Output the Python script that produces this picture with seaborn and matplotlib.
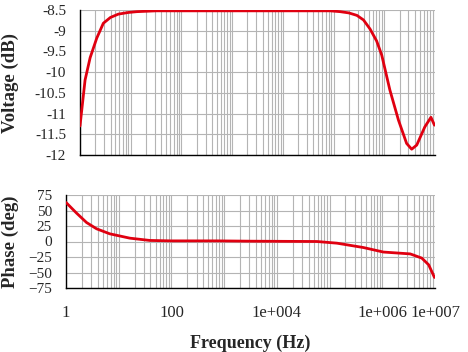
import numpy as np
import pandas as pd
import matplotlib
matplotlib.use("Agg")
import matplotlib.pyplot as plt
import seaborn as sns
from matplotlib.ticker import FixedLocator, NullFormatter

sns.set_style("white")
plt.rcParams['font.family'] = ['Liberation Serif', 'DejaVu Serif']

# ---- data ----
volt_logf = [0.0, 0.1, 0.2, 0.33, 0.46, 0.6, 0.755, 0.95, 1.12, 1.5, 2.5, 3.5, 4.5, 4.93,
             5.13, 5.3, 5.46, 5.59, 5.72, 5.85, 5.95, 6.11, 6.28, 6.44, 6.54, 6.64, 6.8,
             6.92, 6.99]
volt_db = [-11.3, -10.19, -9.65, -9.18, -8.82, -8.68, -8.60, -8.56, -8.54, -8.52, -8.52, -8.52,
           -8.52, -8.52, -8.54, -8.57, -8.63, -8.74, -8.96, -9.25, -9.59, -10.43, -11.16,
           -11.72, -11.86, -11.76, -11.32, -11.09, -11.28]

phase_logf = [0.0, 0.2, 0.39, 0.58, 0.83, 1.21, 1.59, 2.0, 2.86, 3.5, 4.76, 5.14, 5.64,
              6.02, 6.53, 6.75, 6.88, 6.99]
phase_deg = [63, 45.8, 30.6, 20.5, 12.4, 5.4, 1.7, 1.0, 1.0, 0.5, 0.0, -2.7, -9.7,
             -17, -20, -26.8, -37.6, -58]

volt_ticks = [-8.5, -9, -9.5, -10, -10.5, -11, -11.5, -12]
volt_tick_labels = ["-8.5", "-9", "-9.5", "-10", "-10.5", "-11", "-11.5", "-12"]
phase_ticks = [75, 50, 25, 0, -25, -50, -75]
x_ticks = [1, 100, 1e4, 1e6, 1e7]
x_tick_labels = ["1", "100", "1e+004", "1e+006", "1e+007"]

dfv = pd.DataFrame({"f": 10 ** np.array(volt_logf), "v": volt_db})
dfp = pd.DataFrame({"f": 10 ** np.array(phase_logf), "p": phase_deg})

W, H = 468, 352
fig = plt.figure(figsize=(W / 100, H / 100), dpi=100)
ax1 = fig.add_axes([80 / W, 1 - 155 / H, (435 - 80) / W, (155 - 10) / H])
ax2 = fig.add_axes([66 / W, 1 - 288 / H, (435 - 66) / W, (288 - 195) / H])

red = "#e00010"
grid_c = "#b4b4b4"
minor_pos = [k * 10 ** n for n in range(0, 7) for k in range(2, 10)]

for ax in (ax1, ax2):
    ax.set_xscale("log")
    ax.set_xlim(1, 1e7)
    ax.xaxis.set_minor_locator(FixedLocator(minor_pos))
    ax.xaxis.set_minor_formatter(NullFormatter())
    for v in minor_pos + [1, 10, 100, 1e3, 1e4, 1e5, 1e6, 1e7]:
        ax.axvline(v, color=grid_c, lw=0.8, zorder=0)
    for s in ("top", "right"):
        ax.spines[s].set_visible(False)
    for s in ("left", "bottom"):
        ax.spines[s].set_color("black")
        ax.spines[s].set_linewidth(1.0)
    ax.tick_params(axis="both", which="minor", length=0)
    ax.tick_params(axis="y", which="major", direction="out", length=5, width=1,
                   color="black", pad=5, labelsize=11)

sns.lineplot(data=dfv, x="f", y="v", ax=ax1, color=red, lw=2, sort=False,
             estimator=None, zorder=3)
ax1.set_ylim(-12, -8.5)
ax1.set_yticks(volt_ticks)
ax1.set_yticklabels(volt_tick_labels)
for v in volt_ticks:
    ax1.axhline(v, color=grid_c, lw=0.8, zorder=0)
ax1.set_xticks([])
ax1.set_xticks([], minor=True)
ax1.set_xlabel("")
ax1.set_ylabel("Voltage (dB)", fontsize=13.5, fontweight="bold")
ax1.yaxis.set_label_coords(-0.172, 0.5)

sns.lineplot(data=dfp, x="f", y="p", ax=ax2, color=red, lw=2, sort=False,
             estimator=None, zorder=3)
ax2.set_ylim(-75, 75)
ax2.set_yticks(phase_ticks)
for v in phase_ticks:
    ax2.axhline(v, color=grid_c, lw=0.8, zorder=0)
ax2.set_xticks(x_ticks)
ax2.set_xticklabels(x_tick_labels)
ax2.tick_params(axis="x", which="major", direction="out", length=4.5, width=1,
                color="black", labelsize=12, pad=8)
ax2.set_xlabel("Frequency (Hz)", fontsize=13, fontweight="bold")
ax2.xaxis.set_label_coords(0.5, -0.5)
ax2.set_ylabel("Phase (deg)", fontsize=13.5, fontweight="bold")
ax2.yaxis.set_label_coords(-0.127, 0.5)

fig.savefig("out.png", dpi=100)
